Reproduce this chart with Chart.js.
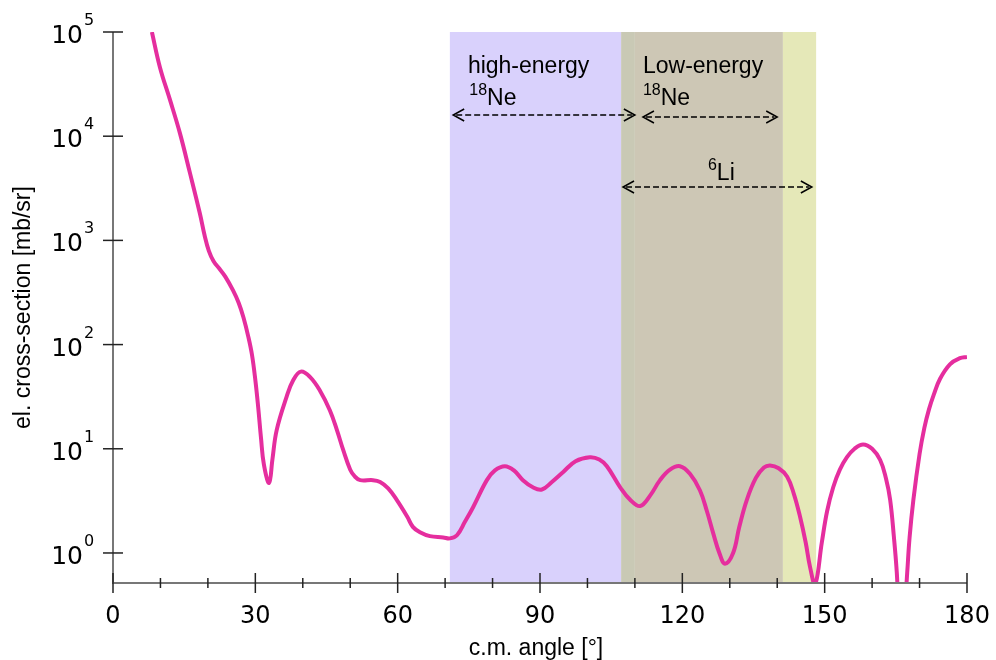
<!DOCTYPE html>
<html>
<head>
<meta charset="utf-8">
<script src="https://cdn.jsdelivr.net/npm/chart.js@4"></script>
<style>
    html, body { margin: 0; padding: 0; background: #ffffff; }
    #wrap { width: 996px; height: 660px; }
</style>
</head>
<body>
<div id="wrap"><canvas id="xsChart" width="996" height="660"></canvas></div>
<script>
// Elastic cross-section vs c.m. angle
const angles = [
    8.2, 9.9, 12.0, 14.1, 16.2, 18.3, 19.3, 20.2, 21.2, 22.4, 23.7, 25.3, 26.5,
    27.5, 28.5, 29.3, 30.0, 30.6, 31.2, 31.8, 32.9, 33.6, 34.5, 36.6, 38.0, 39.6,
    41.5, 43.6, 45.7, 47.2, 48.5, 50.0, 51.0, 52.1, 54.8, 56.3, 58.0, 59.8, 62.0,
    63.2, 64.7, 66.8, 69.6, 71.0, 72.5, 74.2, 75.9, 78.8, 80.5, 82.6, 84.5, 86.4,
    88.5, 90.4, 92.5, 94.9, 97.5, 100.5, 102.5, 104.1, 106.9, 109.0, 111.1, 113.2,
    115.3, 117.4, 119.5, 121.6, 123.7, 125.2, 126.5, 127.8, 129.0, 130.7, 132.0, 133.6,
    135.5, 137.2, 138.5, 140.3, 142.1, 143.5, 144.8, 146.0, 146.9, 148.0, 149.4, 150.5,
    151.8, 153.2, 154.7, 156.3, 158.1, 160.0, 161.7, 162.9, 163.8, 164.6, 165.2, 166.2,
    167.4, 167.9, 168.7, 170.0, 171.0, 172.0, 173.0, 174.3, 176.4, 178.5, 180.0
];
const sigma = [
    100000, 45700, 22400, 10700, 4470, 1820, 1122, 794, 631, 537, 447, 331, 251,
    182, 120, 79.4, 45.7, 25.1, 12.6, 7.1, 4.7, 7.9, 15.1, 31.6, 45.7, 55,
    49, 36.3, 23.4, 15.1, 9.8, 6.3, 5.4, 5.0, 5.0, 4.8, 4.17, 3.24, 2.24,
    1.78, 1.58, 1.45, 1.41, 1.38, 1.48, 2.0, 2.75, 5.0, 6.2, 6.8, 6.2, 5.0,
    4.27, 4.07, 4.8, 6.0, 7.6, 8.3, 7.9, 6.8, 4.27, 3.24, 2.82, 3.55,
    5.0, 6.3, 6.8, 5.75, 4.0, 2.5, 1.55, 1.0, 0.79, 1.0, 1.78, 3.24,
    5.25, 6.6, 6.9, 6.5, 5.4, 3.7, 2.24, 1.26, 0.74, 0.5, 1.26, 2.5,
    4.27, 6.3, 8.3, 10.0, 11.0, 10.0, 7.8, 5.25, 3.24, 1.41, 0.65, 0.1,
    0.65, 1.41, 3.24, 8.9, 15.8, 24, 33.1, 46.8, 64.6, 74, 76
];

// Axis ticks
const xMajorTicks = [0, 30, 60, 90, 120, 150, 180];
const xMinorTicks = [10, 20, 40, 50, 70, 80, 100, 110, 130, 140, 160, 170];
const yExponents = [0, 1, 2, 3, 4, 5];

// Angular ranges covered by the measurements
const bandStarts = [71.0, 107.1, 110.0, 141.2];
const bandEnds = [107.1, 110.0, 141.2, 148.2];
const bandColors = ['#d9d1fc', '#c9c9b5', '#cdc7b5', '#e5e8b8'];

const AXIS_COLOR = '#777777';
const TICK_FONT = '"DejaVu Sans", sans-serif';
const LABEL_FONT = '"Liberation Sans", Arial, sans-serif';

// small number in front, e.g. 18Ne
function drawIsotope(ctx, x, y, mass, name) {
    ctx.textBaseline = 'alphabetic';
    ctx.textAlign = 'left';
    ctx.font = '16px ' + LABEL_FONT;
    ctx.fillText(mass, x, y - 10);
    const w = ctx.measureText(mass).width;
    ctx.font = '23px ' + LABEL_FONT;
    ctx.fillText(name, x + w, y);
}

function dashedArrow(ctx, x1, x2, y) {
    ctx.save();
    ctx.strokeStyle = '#000';
    ctx.lineWidth = 1.5;
    ctx.setLineDash([6, 3]);
    ctx.beginPath();
    ctx.moveTo(x1 + 3, y);
    ctx.lineTo(x2 - 3, y);
    ctx.stroke();
    ctx.setLineDash([]);
    ctx.beginPath();
    ctx.moveTo(x1 + 11, y - 6);
    ctx.lineTo(x1, y);
    ctx.lineTo(x1 + 11, y + 6);
    ctx.moveTo(x2 - 11, y - 6);
    ctx.lineTo(x2, y);
    ctx.lineTo(x2 - 11, y + 6);
    ctx.stroke();
    ctx.restore();
}

const bandsPlugin = {
    id: 'bands',
    beforeDatasetsDraw(chart) {
        const { ctx, chartArea, scales } = chart;
        ctx.save();
        bandStarts.forEach((s, i) => {
            const x1 = scales.x.getPixelForValue(s);
            const x2 = scales.x.getPixelForValue(bandEnds[i]);
            ctx.fillStyle = bandColors[i];
            ctx.fillRect(x1, chartArea.top, x2 - x1, chartArea.bottom - chartArea.top);
        });
        ctx.restore();
    }
};

const axesPlugin = {
    id: 'axes',
    afterDatasetsDraw(chart) {
        const { ctx, chartArea, scales } = chart;
        const left = chartArea.left, bottom = chartArea.bottom;
        ctx.save();

        // axis lines
        ctx.strokeStyle = AXIS_COLOR;
        ctx.lineWidth = 2;
        ctx.beginPath();
        ctx.moveTo(left, chartArea.top);
        ctx.lineTo(left, bottom);
        ctx.lineTo(chartArea.right, bottom);
        ctx.stroke();

        // x ticks
        ctx.strokeStyle = '#222';
        ctx.lineWidth = 1.5;
        xMajorTicks.forEach(v => {
            const x = scales.x.getPixelForValue(v);
            ctx.beginPath();
            ctx.moveTo(x, bottom - 10);
            ctx.lineTo(x, bottom + 10);
            ctx.stroke();
        });
        xMinorTicks.forEach(v => {
            const x = scales.x.getPixelForValue(v);
            ctx.beginPath();
            ctx.moveTo(x, bottom - 5);
            ctx.lineTo(x, bottom + 5);
            ctx.stroke();
        });
        ctx.fillStyle = '#000';
        ctx.font = '24px ' + TICK_FONT;
        ctx.textAlign = 'center';
        ctx.textBaseline = 'alphabetic';
        xMajorTicks.forEach(v => {
            ctx.fillText(String(v), scales.x.getPixelForValue(v), bottom + 40);
        });

        // y ticks, 10^n labels
        yExponents.forEach(e => {
            const y = scales.y.getPixelForValue(Math.pow(10, e));
            ctx.beginPath();
            ctx.moveTo(left - 10, y);
            ctx.lineTo(left + 10, y);
            ctx.stroke();
            ctx.font = '25px ' + TICK_FONT;
            ctx.textAlign = 'right';
            ctx.fillText('10', left - 30, y + 11);
            ctx.font = '16px ' + TICK_FONT;
            ctx.textAlign = 'left';
            ctx.fillText(String(e), left - 29, y - 7);
        });

        // axis titles
        ctx.font = '23px ' + LABEL_FONT;
        ctx.textAlign = 'center';
        ctx.fillText('c.m. angle [°]', (left + chartArea.right) / 2 - 4, bottom + 72);
        ctx.save();
        ctx.translate(30, (chartArea.top + bottom) / 2);
        ctx.rotate(-Math.PI / 2);
        ctx.fillText('el. cross-section [mb/sr]', 0, 0);
        ctx.restore();

        // annotations
        const xp = v => scales.x.getPixelForValue(v);
        const top = chartArea.top;
        ctx.font = '23px ' + LABEL_FONT;
        ctx.textAlign = 'left';
        ctx.fillText('high-energy', xp(74.8), top + 41);
        ctx.fillText('Low-energy', xp(111.7), top + 41);
        drawIsotope(ctx, xp(75.1), top + 73, '18', 'Ne');
        drawIsotope(ctx, xp(111.7), top + 73, '18', 'Ne');
        drawIsotope(ctx, xp(125.4), top + 148, '6', 'Li');
        dashedArrow(ctx, xp(71.7), xp(110.0), top + 83);
        dashedArrow(ctx, xp(111.7), xp(140.0), top + 85);
        dashedArrow(ctx, xp(107.5), xp(147.3), top + 155);

        ctx.restore();
    }
};

const points = angles.map((a, i) => ({ x: a, y: sigma[i] }));

new Chart(document.getElementById('xsChart'), {
    type: 'line',
    data: {
        datasets: [{
            data: points,
            borderColor: '#e52e9e',
            borderWidth: 4,
            pointRadius: 0,
            fill: false,
            tension: 0.4,
            clip: 0
        }]
    },
    options: {
        responsive: false,
        animation: false,
        layout: { padding: { left: 113, top: 32, right: 29, bottom: 77 } },
        plugins: { legend: { display: false }, tooltip: { enabled: false } },
        scales: {
            x: { type: 'linear', min: 0, max: 180, display: false },
            y: { type: 'logarithmic', min: 0.515, max: 100000, display: false }
        }
    },
    plugins: [bandsPlugin, axesPlugin]
});
</script>
</body>
</html>
